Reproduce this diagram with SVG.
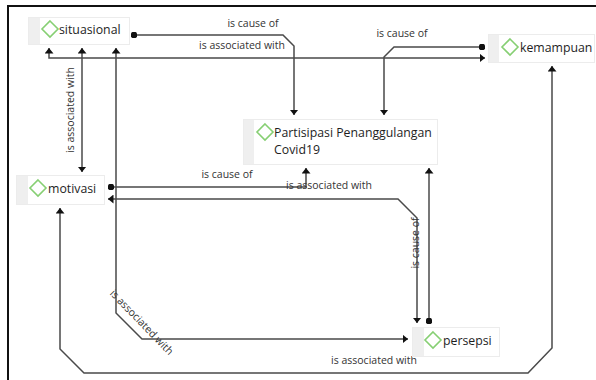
<svg xmlns="http://www.w3.org/2000/svg" width="596" height="380" viewBox="0 0 596 380">
<style>
.frame{fill:none;stroke:#111;stroke-width:2}
.box{fill:#fff;stroke:#ececec;stroke-width:1}
.strip{fill:#efefef}
.dia{fill:none;stroke:#86cf73;stroke-width:1.6}
.nl{font-family:"Open Sans","Noto Sans",sans-serif;font-size:12.3px;fill:#1e1e1e}
.ll{font-family:"Open Sans","Noto Sans",sans-serif;font-size:10.5px;fill:#333;text-anchor:middle}
.c{fill:none;stroke:#4a4a4a;stroke-width:1.5}
</style>
<defs>
<marker id="arr" viewBox="0 0 6 10" refX="6" refY="5" markerWidth="5.5" markerHeight="9" markerUnits="userSpaceOnUse" orient="auto-start-reverse" preserveAspectRatio="none">
<path d="M0,0 L6,5 L0,10 Z" fill="#111"/>
</marker>
<marker id="dot" viewBox="0 0 10 10" refX="5" refY="5" markerWidth="6.5" markerHeight="6.5" markerUnits="userSpaceOnUse" orient="auto">
<circle cx="5" cy="5" r="5" fill="#111"/>
</marker>
</defs>
<rect class="frame" x="8" y="6" width="600" height="400"/>
<g id="connectors">
<path class="c" d="M134,35 H283 L294,46 V115" marker-start="url(#dot)" marker-end="url(#arr)"/>
<path class="c" d="M49,48 V58 H485" marker-start="url(#arr)" marker-end="url(#arr)"/>
<path class="c" d="M82,48 V172" marker-start="url(#arr)" marker-end="url(#arr)"/>
<path class="c" d="M116,48 V313 L142,339 H408" marker-start="url(#arr)" marker-end="url(#arr)"/>
<path class="c" d="M111,187 H306 V168" marker-start="url(#dot)" marker-end="url(#arr)"/>
<path class="c" d="M108,199 H398 L417,218 V323" marker-start="url(#arr)" marker-end="url(#arr)"/>
<path class="c" d="M429,321 V168" marker-start="url(#dot)" marker-end="url(#arr)"/>
<path class="c" d="M482,47 H394 L384,57 V115" marker-start="url(#dot)" marker-end="url(#arr)"/>
<path class="c" d="M552,66 V348 L528,373 H84 L60,349 V208" marker-start="url(#arr)" marker-end="url(#arr)"/>
<text class="ll" x="253" y="27">is cause of</text>
<text class="ll" x="242" y="49">is associated with</text>
<text class="ll" x="0" y="0" dominant-baseline="central" transform="translate(70,110) rotate(-90)">is associated with</text>
<text class="ll" x="227" y="178">is cause of</text>
<text class="ll" x="329" y="189">is associated with</text>
<text class="ll" x="402" y="37">is cause of</text>
<text class="ll" x="0" y="0" dominant-baseline="central" transform="translate(142,322) rotate(46)">is associated with</text>
<text class="ll" x="0" y="0" dominant-baseline="central" transform="translate(415,243) rotate(-90)">is cause of</text>
<text class="ll" x="374" y="364">is associated with</text>
</g>
<g id="situasional">
<rect class="box" x="28.5" y="17.5" width="101" height="27"/>
<rect class="strip" x="29" y="18" width="11" height="26"/>
<path class="dia" d="M50,21 L58,29 L50,37 L42,29 Z"/>
<text class="nl" x="59" y="34">situasional</text>
</g>
<g id="kemampuan">
<rect class="box" x="488.5" y="34.5" width="106" height="28"/>
<rect class="strip" x="489" y="35" width="10" height="27"/>
<path class="dia" d="M510,39 L518,47 L510,55 L502,47 Z"/>
<text class="nl" x="520" y="52">kemampuan</text>
</g>
<g id="partisipasi">
<rect class="box" x="243.5" y="119.5" width="194" height="45"/>
<rect class="strip" x="244" y="120" width="10" height="44"/>
<path class="dia" d="M265,124 L273,132 L265,140 L257,132 Z"/>
<text class="nl" x="274" y="137">Partisipasi Penanggulangan</text>
<text class="nl" x="274" y="154">Covid19</text>
</g>
<g id="motivasi">
<rect class="box" x="16.5" y="175.5" width="88" height="29"/>
<rect class="strip" x="17" y="176" width="11" height="28"/>
<path class="dia" d="M38,180 L46,188 L38,196 L30,188 Z"/>
<text class="nl" x="48" y="193">motivasi</text>
</g>
<g id="persepsi">
<rect class="box" x="412.5" y="327.5" width="87" height="29"/>
<rect class="strip" x="413" y="328" width="11" height="28"/>
<path class="dia" d="M433,332 L441,340 L433,348 L425,340 Z"/>
<text class="nl" x="443" y="345">persepsi</text>
</g>
</svg>
